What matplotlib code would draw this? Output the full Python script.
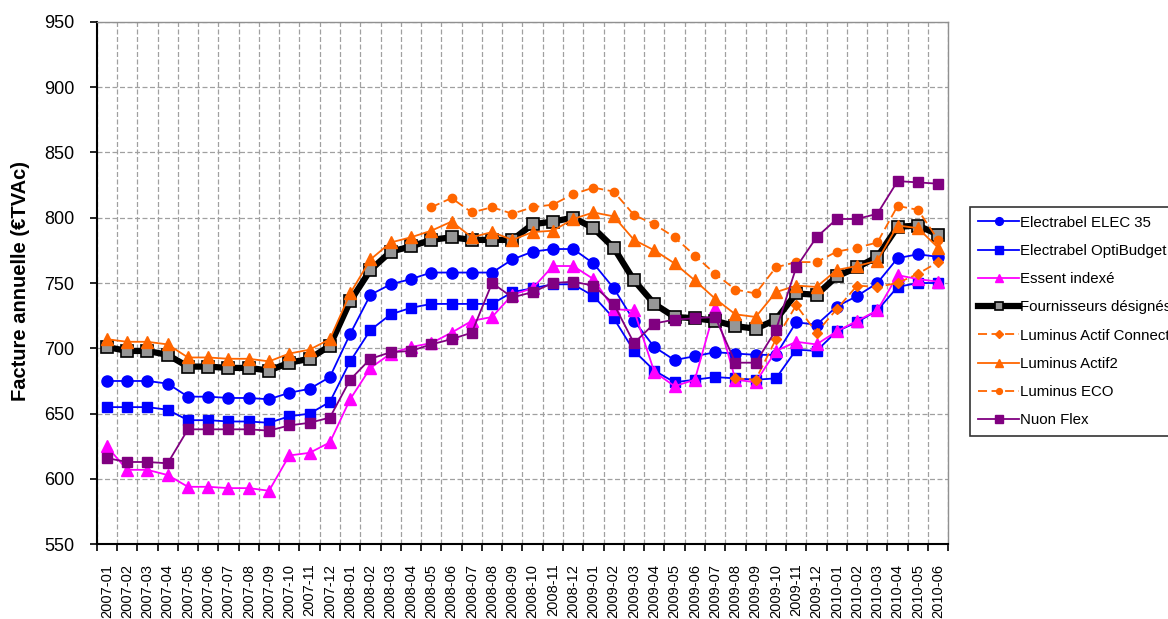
import matplotlib
matplotlib.use("Agg")
import matplotlib.pyplot as plt
import numpy as np

months = ["2007-01", "2007-02", "2007-03", "2007-04", "2007-05", "2007-06", "2007-07", "2007-08",
          "2007-09", "2007-10", "2007-11", "2007-12",
          "2008-01", "2008-02", "2008-03", "2008-04", "2008-05", "2008-06", "2008-07", "2008-08",
          "2008-09", "2008-10", "2008-11", "2008-12",
          "2009-01", "2009-02", "2009-03", "2009-04", "2009-05", "2009-06", "2009-07", "2009-08",
          "2009-09", "2009-10", "2009-11", "2009-12",
          "2010-01", "2010-02", "2010-03", "2010-04", "2010-05", "2010-06"]

N = None
elec35 = [675, 675, 675, 673, 663, 663, 662, 662, 661, 666, 669, 678,
          711, 741, 749, 753, 758, 758, 758, 758, 768, 774, 776, 776,
          765, 746, 721, 701, 691, 694, 697, 696, 695, 695, 720, 718,
          732, 740, 750, 769, 772, 770]
optibudget = [655, 655, 655, 653, 645, 645, 644, 644, 643, 648, 650, 659,
              690, 714, 726, 731, 734, 734, 734, 734, 743, 746, 749, 749,
              740, 723, 698, 683, 674, 676, 678, 677, 676, 677, 699, 698,
              713, 720, 729, 747, 750, 750]
essent = [625, 607, 607, 603, 594, 594, 593, 593, 591, 618, 620, 628,
          661, 685, 696, 701, 704, 712, 721, 724, 741, 746, 763, 763,
          753, 730, 729, 682, 671, 676, 731, 676, 674, 698, 705, 703,
          713, 721, 729, 756, 753, 751]
fournisseurs = [701, 698, 698, 695, 686, 686, 685, 685, 683, 689, 692, 702,
                736, 760, 774, 778, 783, 785, 783, 783, 783, 795, 797, 800,
                792, 777, 752, 734, 724, 723, 721, 717, 715, 722, 742, 741,
                755, 762, 770, 793, 794, 787]
actif_connect = [N] * 31 + [677, 676, 707, 733, 712, 730, 748, 747, 750, 757, 766]
actif2 = [707, 705, 705, 703, 693, 693, 692, 692, 690, 696, 699, 707,
          742, 768, 781, 785, 790, 797, 785, 789, 783, 789, 790, 799,
          804, 801, 783, 775, 765, 752, 738, 726, 724, 743, 748, 747,
          760, 763, 767, 794, 792, 777]
eco = [N] * 16 + [808, 815, 804, 808, 803, 808, 810, 818,
                  823, 820, 802, 795, 785, 771, 757, 745, 742, 762, 766, 766,
                  774, 777, 781, 809, 806, 783]
nuon = [616, 613, 613, 612, 638, 638, 638, 638, 637, 641, 643, 647,
        676, 692, 697, 698, 703, 707, 712, 750, 739, 743, 750, 751,
        748, 734, 704, 719, 722, 723, 724, 689, 689, 714, 762, 785,
        799, 799, 803, 828, 827, 826]

plt.rcParams['font.family'] = ['Liberation Sans', 'DejaVu Sans']

W, H = 1168, 619
fig = plt.figure(figsize=(W / 100, H / 100), dpi=100)
L, R, T, B = 96.7, 948.3, 21.7, 544.3
ax = fig.add_axes([L / W, 1 - B / H, (R - L) / W, (B - T) / H])

x = np.arange(len(months))

def arr(v):
    return np.array([np.nan if a is None else a for a in v], dtype=float)

blue = "#0000FF"
mag = "#FF00FF"
orange = "#FF6600"
purple = "#800080"

ax.plot(x, arr(elec35), color=blue, lw=1.3, marker='o', ms=8, mec=blue, mfc=blue,
        label="Electrabel ELEC 35", zorder=3)
ax.plot(x, arr(optibudget), color=blue, lw=1.3, marker='s', ms=7.5, mec=blue, mfc=blue,
        label="Electrabel OptiBudget", zorder=3)
ax.plot(x, arr(essent), color=mag, lw=1.3, marker='^', ms=8, mec=mag, mfc=mag,
        label="Essent indexé", zorder=3)
ax.plot(x, arr(fournisseurs), color='black', lw=4.5, marker='s', ms=8, mec='black',
        mew=1.2, mfc="#969696", label="Fournisseurs désignés", zorder=3)
ax.plot(x, arr(actif_connect), color=orange, lw=1.3, ls=(0, (5, 2.5)), marker='D', ms=5.5,
        mec=orange, mfc=orange, label="Luminus Actif Connect", zorder=3)
ax.plot(x, arr(actif2), color=orange, lw=1.3, marker='^', ms=8, mec=orange, mfc=orange,
        label="Luminus Actif2", zorder=3)
ax.plot(x, arr(eco), color=orange, lw=1.3, ls=(0, (5, 2.5)), marker='o', ms=6,
        mec=orange, mfc=orange, label="Luminus ECO", zorder=3)
ax.plot(x, arr(nuon), color=purple, lw=1.3, marker='s', ms=7.5, mec=purple, mfc=purple,
        label="Nuon Flex", zorder=3)

ax.set_xlim(-0.5, len(months) - 0.5)
ax.set_ylim(550, 950)
ax.set_yticks(np.arange(550, 951, 50))
ax.set_xticks(x)
ax.set_xticklabels(months, rotation=90, fontsize=10.5)
ax.set_xticks(np.arange(-0.5, len(months), 1.0), minor=True)
ax.tick_params(axis='x', which='major', length=0, pad=14)
ax.tick_params(axis='x', which='minor', length=5, width=1.2, direction='out', color='black')
ax.tick_params(axis='y', which='major', length=5, width=1.2, direction='out', labelsize=13, pad=11)

gridkw = dict(color="#A0A0A0", lw=0.9, ls=(0, (4, 2)))
ax.grid(True, axis='y', which='major', **gridkw)
ax.grid(True, axis='x', which='minor', **gridkw)
ax.grid(False, axis='x', which='major')
ax.set_axisbelow(True)

for s in ['left', 'bottom']:
    ax.spines[s].set_color('black')
    ax.spines[s].set_linewidth(1.5)
for s in ['top', 'right']:
    ax.spines[s].set_color('#909090')
    ax.spines[s].set_linewidth(1.0)

fig.text(21 / W, 1 - 281 / H, "Facture annuelle (€TVAc)", rotation=90, ha='center', va='center',
         fontsize=14.5, fontweight='bold')

leg = fig.legend(loc='upper left', bbox_to_anchor=(970 / W, 1 - 207.3 / H), borderaxespad=0,
                 fontsize=10.8, frameon=True, fancybox=False, edgecolor='black',
                 handlelength=2.7, handletextpad=0.1, labelspacing=0.95, borderpad=0.55,
                 markerscale=0.7)
leg.get_frame().set_linewidth(1.2)

fig.savefig("out.png", dpi=100)
